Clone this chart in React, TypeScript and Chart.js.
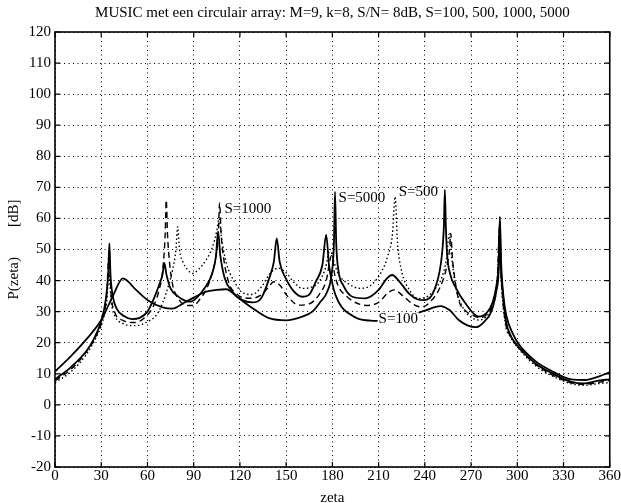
import React, { useEffect, useRef } from "react";
import { Chart, registerables } from "chart.js";

Chart.register(...registerables);

const FONT = "'Liberation Serif', 'Times New Roman', Times, serif";
const TITLE = "MUSIC met een circulair array: M=9, k=8, S/N= 8dB, S=100, 500, 1000, 5000";
const X_TITLE = "zeta";
const Y_TITLE = "P(zeta)        [dB]";

const X_TICKS = [0, 30, 60, 90, 120, 150, 180, 210, 240, 270, 300, 330, 360];
const Y_TICKS = [-20, -10, 0, 10, 20, 30, 40, 50, 60, 70, 80, 90, 100, 110, 120];

// S=100 (solid)
const s100X = [0, 10, 20, 25, 30, 33, 34.5, 35.3, 36, 37.5, 40, 45, 50, 55, 60, 64, 67.5, 69.8, 71, 72.3, 75, 79.6, 85, 88, 92, 97, 102, 104.5, 105.8, 107.3, 110, 115, 121.6, 128, 134, 139, 142, 143.9, 145.8, 149.8, 155, 160.5, 165, 169.2, 173.5, 176, 177.8, 180, 182, 186, 191, 197, 205, 212, 220, 230, 240, 250, 256, 262, 268, 273, 278, 283.5, 286.5, 287.9, 288.6, 289.3, 291, 292.5, 296, 300.8, 311.6, 322.4, 335, 344, 352.6, 360];
const s100Y = [8.2, 12, 17.1, 21, 27, 34, 42, 52, 42, 35, 31, 28.5, 27.6, 28, 30, 34, 38.5, 42, 45.6, 42, 37.5, 35, 33.4, 33.2, 34.5, 37.5, 42.3, 48, 55.8, 48, 41, 36.5, 33.7, 33, 34.5, 40.7, 46, 53.6, 46, 40.7, 36.5, 34.8, 35.5, 39.6, 45, 54.7, 45, 39, 35.4, 31.5, 29.3, 27.7, 27.1, 27, 27.5, 28.7, 30.3, 31.8, 30.5, 27.3, 25.5, 25, 26.5, 30.5, 37, 43.4, 59, 45, 34, 27.3, 22, 18.7, 13.4, 10.2, 7.4, 6.9, 7.8, 8.2];

// S=5000 (solid)
const s5000X = [0, 10, 20, 30, 38, 44, 52.6, 60.2, 69.9, 76, 85, 98, 105, 111, 119.5, 130, 139, 150, 160, 167, 172, 176.7, 179.5, 181, 181.7, 182.5, 184, 187, 193, 201.6, 210, 215, 218.8, 223, 229.6, 235, 239.3, 246.9, 251.2, 252.4, 253, 253.6, 254.4, 256.5, 259.8, 266.3, 274.9, 280, 284, 286.5, 288, 288.7, 289.5, 291, 293, 297, 301, 312, 322, 335, 344, 352.6, 360];
const s5000Y = [10.7, 15.5, 20.9, 27.3, 35.5, 40.7, 37, 33.7, 31.4, 31, 33.2, 36.4, 37, 37.2, 34.2, 30.5, 27.9, 27.2, 28.3, 30, 33, 36.5, 42, 52, 68.6, 52, 43, 38.5, 34.8, 34.3, 37, 40.5, 41.8, 40, 35.9, 34, 33.7, 38, 48.8, 58, 69.2, 58, 48.8, 42, 38, 32.7, 28.4, 29.5, 33, 38.5, 46, 60.6, 46, 35, 28.5, 23, 19.5, 14, 11, 8.2, 8, 9.1, 10.5];

// S=1000 (dashed)
const s1000X = [0, 10, 20, 27, 31, 33.5, 35, 36.5, 39, 44, 52, 58, 63, 67, 70, 71.5, 72.2, 73, 74.5, 76.3, 80.7, 85, 90, 94, 98, 102, 104.5, 106, 106.8, 107.8, 109.5, 113, 117.4, 122, 128, 134, 138, 142, 146, 150, 158.4, 165, 171.3, 176, 179.5, 181.5, 184, 188, 193, 202, 210, 216, 220, 226, 232, 238, 245, 250, 254, 256, 256.8, 257.8, 258.7, 262, 266, 270.6, 276, 281, 284.5, 287, 288.5, 289.5, 292, 296, 301, 312, 322, 335, 344, 352, 360];
const s1000Y = [7.8, 11.3, 16.8, 22.5, 28, 35, 48, 35, 29.5, 27.2, 26.5, 28, 31, 36, 44, 55, 65.9, 55, 45, 38.7, 33.7, 32, 32, 34, 37, 42.3, 48, 55, 65, 55, 47, 39, 35.9, 34.5, 34.3, 35.5, 37.5, 39.6, 38.5, 35.5, 32.1, 32.5, 35.4, 40, 48, 42, 38, 35.5, 33.5, 32, 33, 36, 37, 35, 32.5, 31.5, 34, 38, 44, 50, 55.2, 48, 43.4, 33.7, 30.5, 29, 28, 29.5, 33, 40, 57, 42, 27.5, 21.8, 18.3, 13, 9.8, 7.1, 6.6, 7.2, 7.8];

// S=500 (dotted)
const s500X = [0, 10, 20, 27, 31, 33.5, 35, 36.5, 39, 44, 50, 55, 61, 66, 70, 74, 76.3, 78.5, 79.6, 80.8, 83, 86, 89.3, 93, 98, 102, 105, 106.5, 108, 111, 116, 122, 128, 134, 140, 145, 150, 155, 160.5, 166, 171.3, 175.5, 178.5, 181, 184, 188.6, 198, 205, 212, 216, 219, 220.7, 222.3, 225, 230, 236, 242, 247, 251, 254, 255.8, 257.5, 260, 265, 270, 275, 280, 284, 287, 288.6, 289.5, 292, 296, 301, 312, 322, 335, 344, 352, 360];
const s500Y = [7.2, 10.5, 16, 22, 27, 33, 42, 33, 28.5, 26.2, 25.5, 25.7, 27, 29, 33, 39, 43.4, 50, 57.3, 50, 46, 43.5, 42.3, 43.5, 46.6, 50.5, 56, 60, 54, 46, 40, 36, 35.5, 38, 42.5, 44, 42.5, 39.5, 37.5, 37.8, 39.6, 44, 50, 46, 42, 39.6, 37.5, 38.5, 43, 48, 55, 67, 52, 43, 37, 34.2, 35, 37.5, 41, 47, 55, 47, 38, 31, 28.2, 27.3, 28.5, 32, 40, 58, 42, 27, 21.5, 18, 12.5, 9.5, 6.8, 6.3, 6.8, 7.2];

// in-plot annotations
const noteTexts = ["S=1000", "S=5000", "S=500", "S=100"];
const noteX = [110, 184, 223, 210];
const noteY = [63, 66.5, 68.5, 27.5];
const noteBg = [false, false, false, true];

const toPts = (xs: number[], ys: number[]) => xs.map((x, i) => ({ x, y: ys[i] }));

const framePlugin = {
  id: "frame",
  afterDatasetsDraw(chart: any) {
    const { ctx, chartArea, scales } = chart;
    const { left, right, top, bottom } = chartArea;
    const xs = scales.x;
    const ys = scales.y;
    ctx.save();
    ctx.setLineDash([]);
    ctx.strokeStyle = "#000";
    ctx.lineWidth = 1.6;
    ctx.strokeRect(left, top, right - left, bottom - top);
    ctx.lineWidth = 1.2;
    ctx.beginPath();
    for (const v of X_TICKS) {
      const px = xs.getPixelForValue(v);
      ctx.moveTo(px, bottom);
      ctx.lineTo(px, bottom - 5);
      ctx.moveTo(px, top);
      ctx.lineTo(px, top + 5);
    }
    for (const v of Y_TICKS) {
      const py = ys.getPixelForValue(v);
      ctx.moveTo(left, py);
      ctx.lineTo(left + 5, py);
      ctx.moveTo(right, py);
      ctx.lineTo(right - 5, py);
    }
    ctx.stroke();
    ctx.font = `15px ${FONT}`;
    ctx.textBaseline = "middle";
    ctx.textAlign = "left";
    noteTexts.forEach((t, i) => {
      const px = xs.getPixelForValue(noteX[i]);
      const py = ys.getPixelForValue(noteY[i]);
      if (noteBg[i]) {
        const w = ctx.measureText(t).width;
        ctx.fillStyle = "#fff";
        ctx.fillRect(px - 1, py - 7, w + 2, 14);
      }
      ctx.fillStyle = "#000";
      ctx.fillText(t, px, py);
    });
    ctx.restore();
  },
};

export default function App() {
  const ref = useRef<HTMLCanvasElement | null>(null);
  useEffect(() => {
    document.body.style.margin = "0";
    const canvas = ref.current;
    if (!canvas) return;
    const line = (label: string, xs: number[], ys: number[], dash: number[], w: number) => ({
      label,
      data: toPts(xs, ys),
      borderColor: "#000",
      backgroundColor: "#000",
      borderWidth: w,
      borderDash: dash,
      pointRadius: 0,
      fill: false,
      cubicInterpolationMode: "monotone" as const,
    });
    const chart = new Chart(canvas, {
      type: "line",
      data: {
        datasets: [
          line("S=100", s100X, s100Y, [], 1.8),
          line("S=5000", s5000X, s5000Y, [], 1.8),
          line("S=1000", s1000X, s1000Y, [6, 4], 1.4),
          line("S=500", s500X, s500Y, [1.5, 2.5], 1.4),
        ],
      },
      options: {
        animation: false,
        responsive: false,
        devicePixelRatio: 1,
        layout: { padding: { left: 0, right: 10, top: 0, bottom: 0 } },
        plugins: {
          legend: { display: false },
          tooltip: { enabled: false },
          title: {
            display: true,
            text: TITLE,
            color: "#000",
            fullSize: false,
            font: { family: FONT, size: 15, weight: "normal" },
            padding: { top: 4, bottom: 10 },
          },
        },
        scales: {
          x: {
            type: "linear",
            min: 0,
            max: 360,
            afterFit: (s: any) => {
              s.height = 36;
            },
            afterBuildTicks: (s: any) => {
              s.ticks = X_TICKS.map((v) => ({ value: v }));
            },
            ticks: {
              color: "#000",
              font: { family: FONT, size: 15 },
              padding: 0,
              maxRotation: 0,
              autoSkip: false,
            },
            grid: { color: "#000", lineWidth: 1, drawTicks: false },
            border: { display: false, dash: [1, 3.5] },
            title: {
              display: true,
              text: X_TITLE,
              color: "#000",
              font: { family: FONT, size: 15, lineHeight: 0.7 },
              padding: { top: 2, bottom: 0 },
            },
          },
          y: {
            type: "linear",
            min: -20,
            max: 120,
            afterFit: (s: any) => {
              s.width = 55;
            },
            afterBuildTicks: (s: any) => {
              s.ticks = Y_TICKS.map((v) => ({ value: v }));
            },
            ticks: {
              color: "#000",
              font: { family: FONT, size: 15 },
              padding: 4,
              autoSkip: false,
            },
            grid: { color: "#000", lineWidth: 1, drawTicks: false },
            border: { display: false, dash: [1, 3.5] },
            title: {
              display: true,
              text: Y_TITLE,
              color: "#000",
              font: { family: FONT, size: 15 },
              padding: { top: 5, bottom: 0 },
            },
          },
        },
      },
      plugins: [framePlugin],
    } as any);
    return () => chart.destroy();
  }, []);
  return (
    <div style={{ position: "absolute", left: 0, top: 0, width: 621, height: 503, background: "#fff" }}>
      <canvas ref={ref} width={621} height={503} />
    </div>
  );
}
